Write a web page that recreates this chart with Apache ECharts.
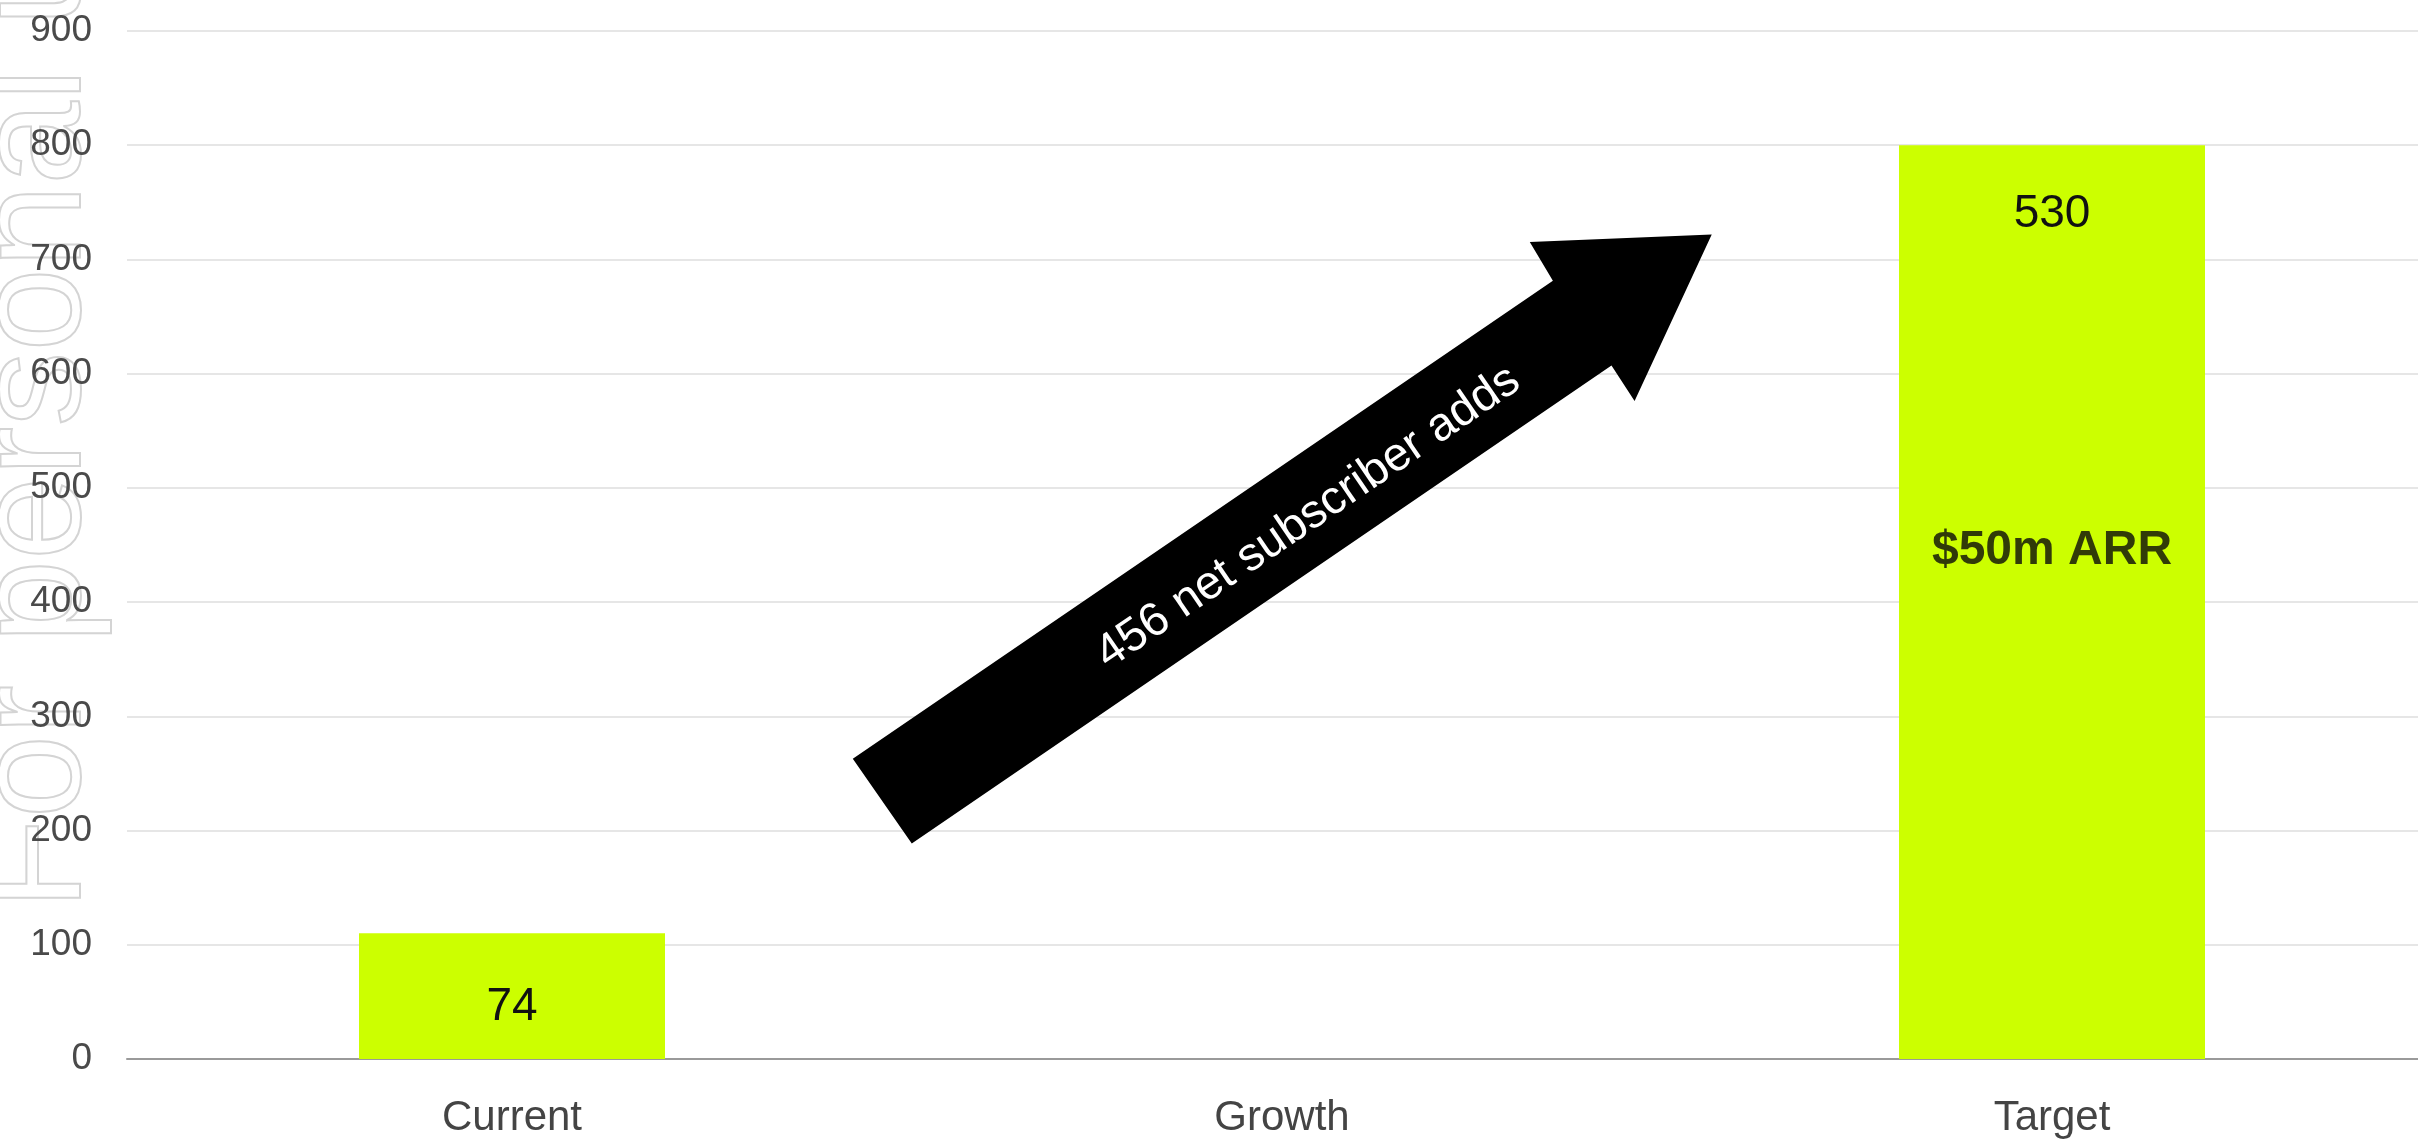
<!DOCTYPE html>
<html>
<head>
<meta charset="utf-8">
<script src="https://cdn.jsdelivr.net/npm/echarts@6/dist/echarts.min.js"></script>
<style>
html,body{margin:0;padding:0;background:#ffffff;overflow:hidden;width:2418px;height:1142px}
#c{width:2437px;height:1142px}
</style>
</head>
<body>
<div id="c"></div>
<script>
// ---- data ----
const categories = ['Current', 'Growth', 'Target'];
const barValues = [110, null, 800];
const barLabels = ['74', '', '530'];
const yMin = 0, yMax = 900, yStep = 100;
const arrowText = '456 net subscriber adds';
const targetNote = '$50m ARR';
const targetNoteValue = 445;
const watermarkText = 'For personal use only';

const FONT = '"Liberation Sans", Arial, Helvetica, sans-serif';
const chart = echarts.init(document.getElementById('c'), null, {renderer: 'canvas'});

const barData = barValues.map((v, i) => {
  if (v == null) return null;
  const item = {value: v};
  if (i === 0) item.label = {position: 'inside', offset: [0, 11]};
  else item.label = {position: 'insideTop', distance: 46};
  return item;
});

const option = {
  backgroundColor: '#ffffff',
  animation: false,
  grid: {left: 127, right: 0, top: 31, bottom: 83, containLabel: false},
  xAxis: {
    type: 'category',
    data: categories,
    axisLine: {show: true, lineStyle: {color: '#9a9a9a', width: 2}},
    axisTick: {show: false},
    axisLabel: {color: '#444', fontSize: 42, fontFamily: FONT, margin: 38}
  },
  yAxis: {
    type: 'value',
    min: yMin, max: yMax, interval: yStep,
    axisLine: {show: false},
    axisTick: {show: false},
    axisLabel: {color: '#4a4a4a', fontSize: 37, fontFamily: FONT, margin: 35},
    splitLine: {lineStyle: {color: '#e6e6e6', width: 2}}
  },
  series: [
    {
      type: 'bar',
      data: barData,
      barWidth: 306,
      itemStyle: {color: '#CCFF00'},
      label: {
        show: true,
        color: '#111',
        fontSize: 46,
        fontFamily: FONT,
        formatter: p => barLabels[p.dataIndex]
      }
    },
    {
      type: 'scatter',
      data: [[categories[2], targetNoteValue]],
      symbolSize: 1,
      itemStyle: {color: 'rgba(0,0,0,0)'},
      label: {
        show: true,
        position: 'inside',
        formatter: targetNote,
        color: '#0a0a0a',
        fontSize: 48,
        fontWeight: 'bold',
        fontFamily: FONT
      },
      z: 5
    }
  ]
};
chart.setOption(option);

// annotation arrow placed in data space (category units, axis value)
const c0 = chart.convertToPixel({xAxisIndex: 0}, categories[0]);
const c1 = chart.convertToPixel({xAxisIndex: 0}, categories[1]);
const step = c1 - c0;
function pt(f, v) {
  return [c0 + f * step, chart.convertToPixel({yAxisIndex: 0}, v)];
}
const arrowShape = [
  pt(0.4426, 262.9),
  pt(1.3518, 681.4),
  pt(1.3218, 715.2),
  pt(1.5581, 721.9),
  pt(1.4579, 576.1),
  pt(1.4279, 607.2),
  pt(0.5192, 188.6)
];
const tailMid = [(arrowShape[0][0] + arrowShape[6][0]) / 2, (arrowShape[0][1] + arrowShape[6][1]) / 2];
const headMid = [(arrowShape[1][0] + arrowShape[5][0]) / 2, (arrowShape[1][1] + arrowShape[5][1]) / 2];
const angle = Math.atan2(tailMid[1] - headMid[1], headMid[0] - tailMid[0]);
const textPos = pt(1.034, 474);

chart.setOption({
  graphic: [
    {
      type: 'text',
      x: 39, y: 910,
      rotation: Math.PI / 2,
      silent: true,
      z: 0,
      style: {
        text: watermarkText,
        fill: 'rgba(0,0,0,0)',
        stroke: '#d4d4d4',
        lineWidth: 2,
        font: '150px ' + FONT,
        align: 'left',
        verticalAlign: 'middle'
      }
    },
    {
      type: 'polygon',
      shape: {points: arrowShape},
      style: {fill: '#000000'},
      z: 10
    },
    {
      type: 'text',
      x: textPos[0], y: textPos[1],
      rotation: angle,
      z: 11,
      style: {
        text: arrowText,
        fill: '#ffffff',
        font: '47px ' + FONT,
        align: 'center',
        verticalAlign: 'middle'
      }
    }
  ]
});
</script>
</body>
</html>
